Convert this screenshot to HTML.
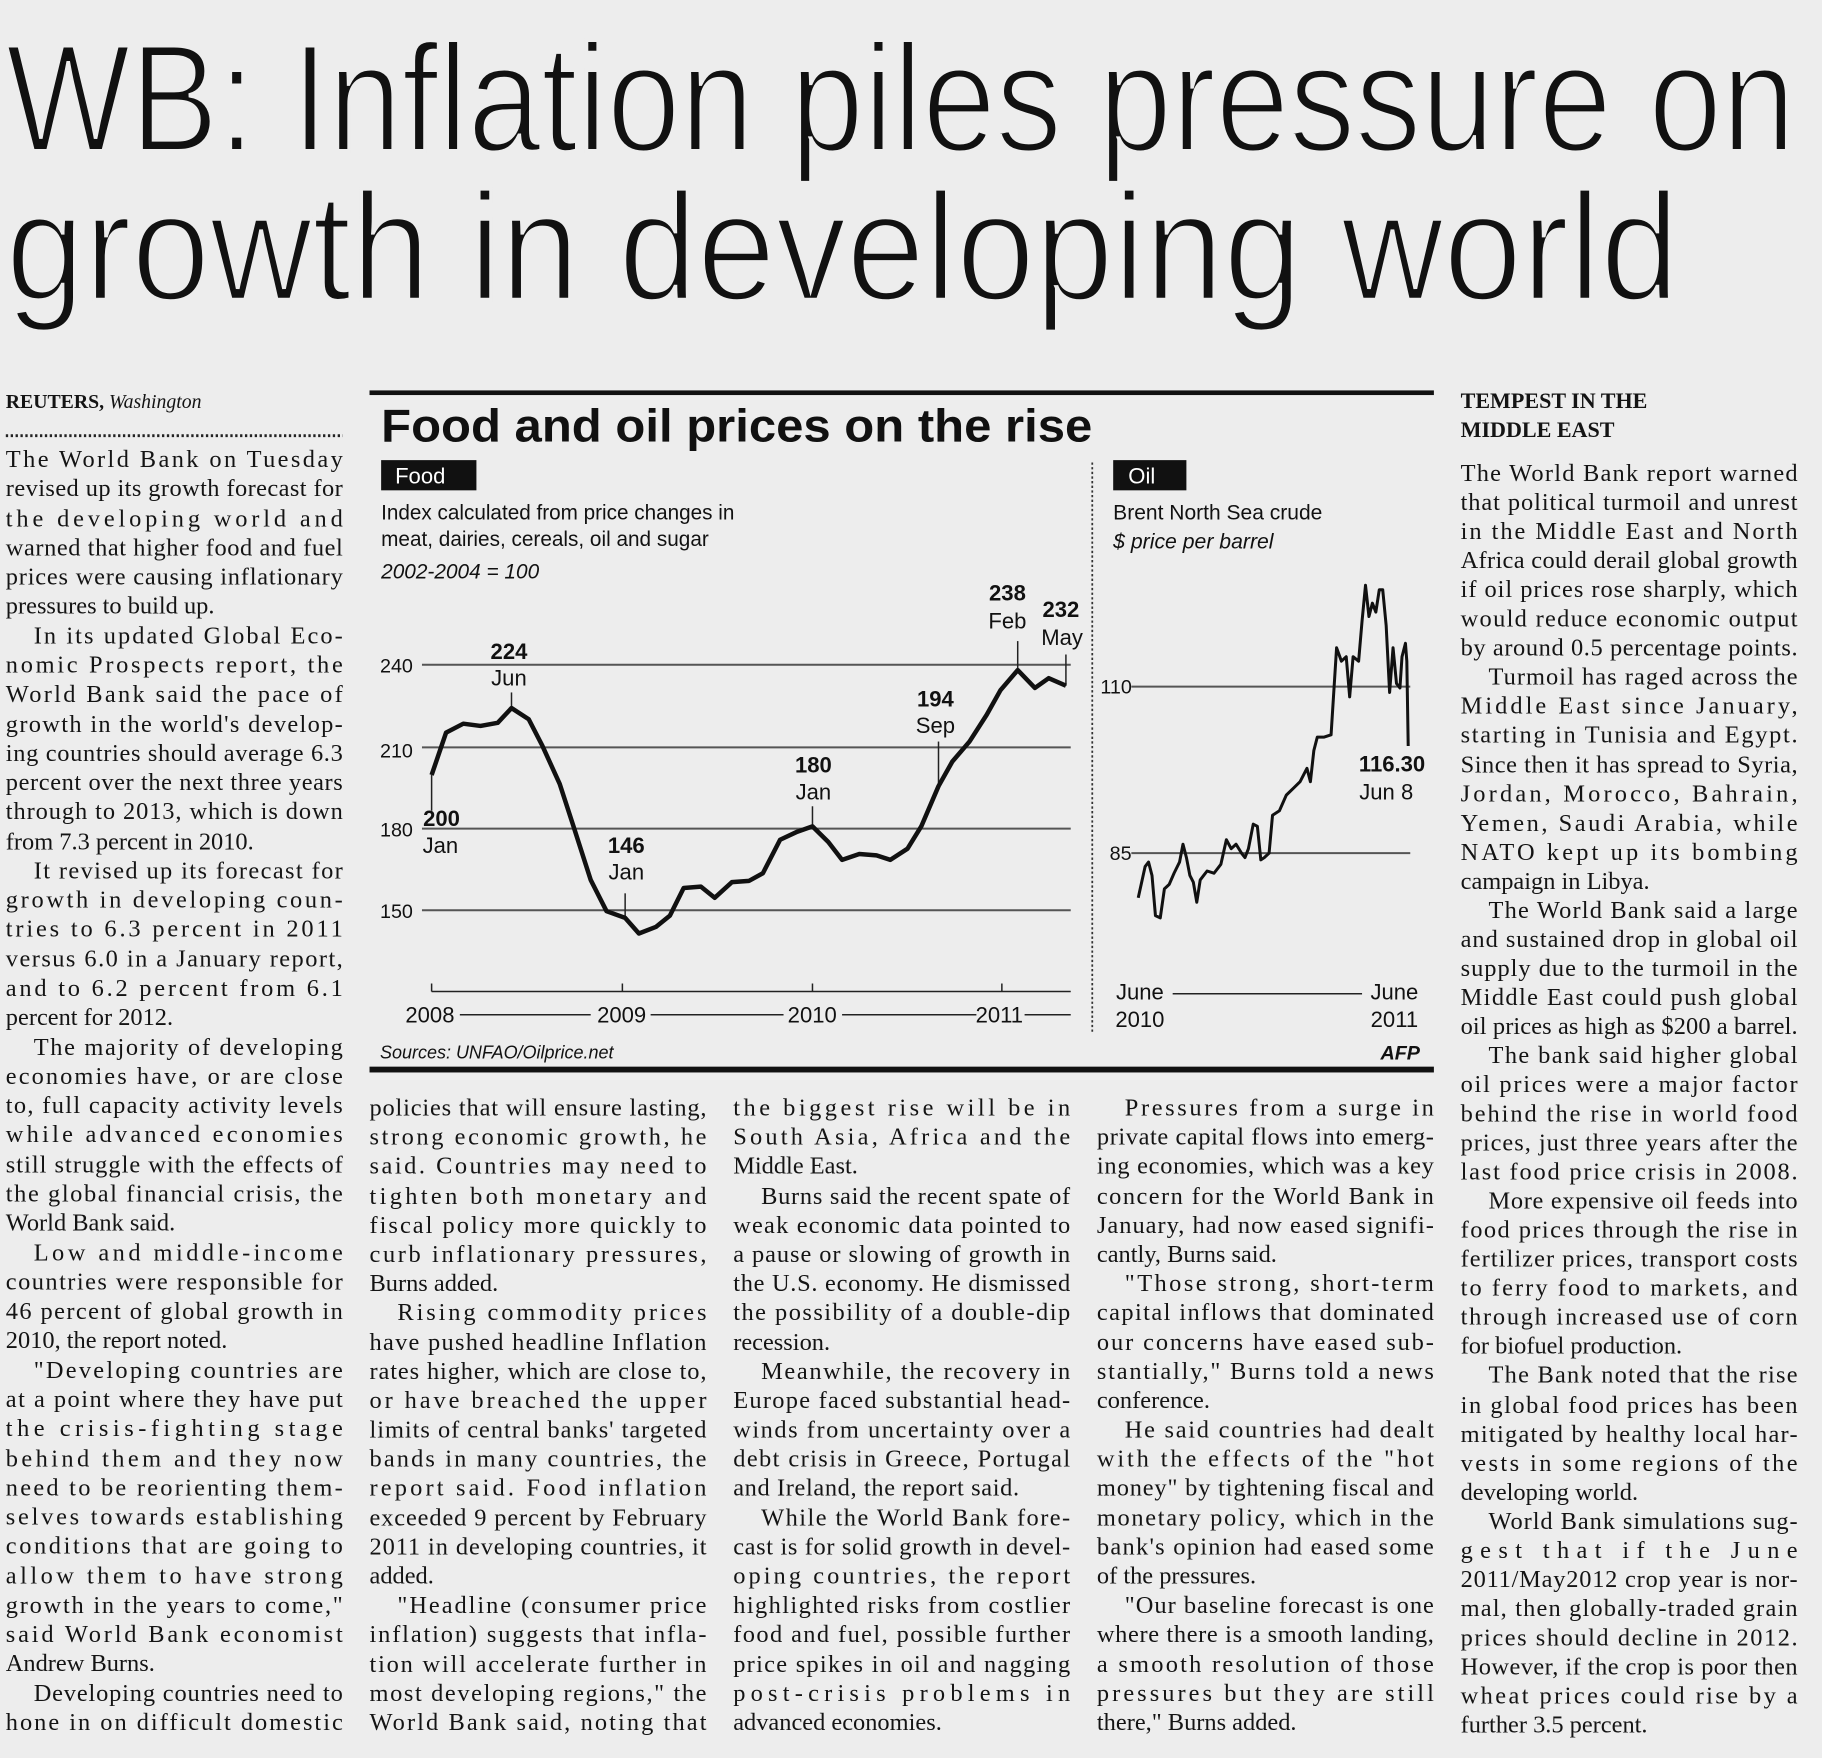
<!DOCTYPE html>
<html><head><meta charset="utf-8"><style>
html,body{margin:0;padding:0;background:#ededed;}
svg{display:block}
.b{font-family:"Liberation Serif",serif;font-size:21px;fill:#141414}
.s{font-family:"Liberation Sans",sans-serif;fill:#111}
</style></head><body>
<svg width="1822" height="1758" viewBox="0 0 1568 1513" preserveAspectRatio="none" xmlns="http://www.w3.org/2000/svg">
<rect width="1568" height="1513" fill="#ededed"/>
<g class="s" style="font-size:132px" fill="#111" stroke="#ededed" stroke-width="3.5">
<text x="5" y="130" textLength="1540" lengthAdjust="spacingAndGlyphs">WB: Inflation piles pressure on</text>
<text x="5" y="258" textLength="1440" lengthAdjust="spacingAndGlyphs">growth in developing world</text>
</g>

<!-- Column 1 -->
<text x="5" y="351" class="b" style="font-size:17px;font-weight:bold">REUTERS, <tspan style="font-style:italic;font-weight:normal">Washington</tspan></text>
<line x1="5" y1="375" x2="295" y2="375" stroke="#222" stroke-width="2.5" stroke-dasharray="2,2.2"/>
<g class="b">
<text x="5" y="402" textLength="290" lengthAdjust="spacing">The World Bank on Tuesday</text>
<text x="5" y="427" textLength="290" lengthAdjust="spacing">revised up its growth forecast for</text>
<text x="5" y="453" textLength="290" lengthAdjust="spacing">the developing world and</text>
<text x="5" y="478" textLength="290" lengthAdjust="spacing">warned that higher food and fuel</text>
<text x="5" y="503" textLength="290" lengthAdjust="spacing">prices were causing inflationary</text>
<text x="5" y="528">pressures to build up.</text>
<text x="29" y="554" textLength="266" lengthAdjust="spacing">In its updated Global Eco-</text>
<text x="5" y="579" textLength="290" lengthAdjust="spacing">nomic Prospects report, the</text>
<text x="5" y="604" textLength="290" lengthAdjust="spacing">World Bank said the pace of</text>
<text x="5" y="630" textLength="290" lengthAdjust="spacing">growth in the world's develop-</text>
<text x="5" y="655" textLength="290" lengthAdjust="spacing">ing countries should average 6.3</text>
<text x="5" y="680" textLength="290" lengthAdjust="spacing">percent over the next three years</text>
<text x="5" y="705" textLength="290" lengthAdjust="spacing">through to 2013, which is down</text>
<text x="5" y="731">from 7.3 percent in 2010.</text>
<text x="29" y="756" textLength="266" lengthAdjust="spacing">It revised up its forecast for</text>
<text x="5" y="781" textLength="290" lengthAdjust="spacing">growth in developing coun-</text>
<text x="5" y="806" textLength="290" lengthAdjust="spacing">tries to 6.3 percent in 2011</text>
<text x="5" y="832" textLength="290" lengthAdjust="spacing">versus 6.0 in a January report,</text>
<text x="5" y="857" textLength="290" lengthAdjust="spacing">and to 6.2 percent from 6.1</text>
<text x="5" y="882">percent for 2012.</text>
<text x="29" y="908" textLength="266" lengthAdjust="spacing">The majority of developing</text>
<text x="5" y="933" textLength="290" lengthAdjust="spacing">economies have, or are close</text>
<text x="5" y="958" textLength="290" lengthAdjust="spacing">to, full capacity activity levels</text>
<text x="5" y="983" textLength="290" lengthAdjust="spacing">while advanced economies</text>
<text x="5" y="1009" textLength="290" lengthAdjust="spacing">still struggle with the effects of</text>
<text x="5" y="1034" textLength="290" lengthAdjust="spacing">the global financial crisis, the</text>
<text x="5" y="1059">World Bank said.</text>
<text x="29" y="1085" textLength="266" lengthAdjust="spacing">Low and middle-income</text>
<text x="5" y="1110" textLength="290" lengthAdjust="spacing">countries were responsible for</text>
<text x="5" y="1135" textLength="290" lengthAdjust="spacing">46 percent of global growth in</text>
<text x="5" y="1160">2010, the report noted.</text>
<text x="29" y="1186" textLength="266" lengthAdjust="spacing">"Developing countries are</text>
<text x="5" y="1211" textLength="290" lengthAdjust="spacing">at a point where they have put</text>
<text x="5" y="1236" textLength="290" lengthAdjust="spacing">the crisis-fighting stage</text>
<text x="5" y="1262" textLength="290" lengthAdjust="spacing">behind them and they now</text>
<text x="5" y="1287" textLength="290" lengthAdjust="spacing">need to be reorienting them-</text>
<text x="5" y="1312" textLength="290" lengthAdjust="spacing">selves towards establishing</text>
<text x="5" y="1337" textLength="290" lengthAdjust="spacing">conditions that are going to</text>
<text x="5" y="1363" textLength="290" lengthAdjust="spacing">allow them to have strong</text>
<text x="5" y="1388" textLength="290" lengthAdjust="spacing">growth in the years to come,"</text>
<text x="5" y="1413" textLength="290" lengthAdjust="spacing">said World Bank economist</text>
<text x="5" y="1438">Andrew Burns.</text>
<text x="29" y="1464" textLength="266" lengthAdjust="spacing">Developing countries need to</text>
<text x="5" y="1489" textLength="290" lengthAdjust="spacing">hone in on difficult domestic</text>
</g>

<!-- Column 2 -->
<g class="b">
<text x="318" y="960" textLength="290" lengthAdjust="spacing">policies that will ensure lasting,</text>
<text x="318" y="985" textLength="290" lengthAdjust="spacing">strong economic growth, he</text>
<text x="318" y="1010" textLength="290" lengthAdjust="spacing">said. Countries may need to</text>
<text x="318" y="1036" textLength="290" lengthAdjust="spacing">tighten both monetary and</text>
<text x="318" y="1061" textLength="290" lengthAdjust="spacing">fiscal policy more quickly to</text>
<text x="318" y="1086" textLength="290" lengthAdjust="spacing">curb inflationary pressures,</text>
<text x="318" y="1111">Burns added.</text>
<text x="342" y="1136" textLength="266" lengthAdjust="spacing">Rising commodity prices</text>
<text x="318" y="1162" textLength="290" lengthAdjust="spacing">have pushed headline Inflation</text>
<text x="318" y="1187" textLength="290" lengthAdjust="spacing">rates higher, which are close to,</text>
<text x="318" y="1212" textLength="290" lengthAdjust="spacing">or have breached the upper</text>
<text x="318" y="1237" textLength="290" lengthAdjust="spacing">limits of central banks' targeted</text>
<text x="318" y="1262" textLength="290" lengthAdjust="spacing">bands in many countries, the</text>
<text x="318" y="1287" textLength="290" lengthAdjust="spacing">report said. Food inflation</text>
<text x="318" y="1313" textLength="290" lengthAdjust="spacing">exceeded 9 percent by February</text>
<text x="318" y="1338" textLength="290" lengthAdjust="spacing">2011 in developing countries, it</text>
<text x="318" y="1363">added.</text>
<text x="342" y="1388" textLength="266" lengthAdjust="spacing">"Headline (consumer price</text>
<text x="318" y="1413" textLength="290" lengthAdjust="spacing">inflation) suggests that infla-</text>
<text x="318" y="1439" textLength="290" lengthAdjust="spacing">tion will accelerate further in</text>
<text x="318" y="1464" textLength="290" lengthAdjust="spacing">most developing regions," the</text>
<text x="318" y="1489" textLength="290" lengthAdjust="spacing">World Bank said, noting that</text>
</g>

<!-- Column 3 -->
<g class="b">
<text x="631" y="960" textLength="290" lengthAdjust="spacing">the biggest rise will be in</text>
<text x="631" y="985" textLength="290" lengthAdjust="spacing">South Asia, Africa and the</text>
<text x="631" y="1010">Middle East.</text>
<text x="655" y="1036" textLength="266" lengthAdjust="spacing">Burns said the recent spate of</text>
<text x="631" y="1061" textLength="290" lengthAdjust="spacing">weak economic data pointed to</text>
<text x="631" y="1086" textLength="290" lengthAdjust="spacing">a pause or slowing of growth in</text>
<text x="631" y="1111" textLength="290" lengthAdjust="spacing">the U.S. economy. He dismissed</text>
<text x="631" y="1136" textLength="290" lengthAdjust="spacing">the possibility of a double-dip</text>
<text x="631" y="1162">recession.</text>
<text x="655" y="1187" textLength="266" lengthAdjust="spacing">Meanwhile, the recovery in</text>
<text x="631" y="1212" textLength="290" lengthAdjust="spacing">Europe faced substantial head-</text>
<text x="631" y="1237" textLength="290" lengthAdjust="spacing">winds from uncertainty over a</text>
<text x="631" y="1262" textLength="290" lengthAdjust="spacing">debt crisis in Greece, Portugal</text>
<text x="631" y="1287" textLength="246" lengthAdjust="spacing">and Ireland, the report said.</text>
<text x="655" y="1313" textLength="266" lengthAdjust="spacing">While the World Bank fore-</text>
<text x="631" y="1338" textLength="290" lengthAdjust="spacing">cast is for solid growth in devel-</text>
<text x="631" y="1363" textLength="290" lengthAdjust="spacing">oping countries, the report</text>
<text x="631" y="1388" textLength="290" lengthAdjust="spacing">highlighted risks from costlier</text>
<text x="631" y="1413" textLength="290" lengthAdjust="spacing">food and fuel, possible further</text>
<text x="631" y="1439" textLength="290" lengthAdjust="spacing">price spikes in oil and nagging</text>
<text x="631" y="1464" textLength="290" lengthAdjust="spacing">post-crisis problems in</text>
<text x="631" y="1489">advanced economies.</text>
</g>

<!-- Column 4 -->
<g class="b">
<text x="968" y="960" textLength="266" lengthAdjust="spacing">Pressures from a surge in</text>
<text x="944" y="985" textLength="290" lengthAdjust="spacing">private capital flows into emerg-</text>
<text x="944" y="1010" textLength="290" lengthAdjust="spacing">ing economies, which was a key</text>
<text x="944" y="1036" textLength="290" lengthAdjust="spacing">concern for the World Bank in</text>
<text x="944" y="1061" textLength="290" lengthAdjust="spacing">January, had now eased signifi-</text>
<text x="944" y="1086">cantly, Burns said.</text>
<text x="968" y="1111" textLength="266" lengthAdjust="spacing">"Those strong, short-term</text>
<text x="944" y="1136" textLength="290" lengthAdjust="spacing">capital inflows that dominated</text>
<text x="944" y="1162" textLength="290" lengthAdjust="spacing">our concerns have eased sub-</text>
<text x="944" y="1187" textLength="290" lengthAdjust="spacing">stantially," Burns told a news</text>
<text x="944" y="1212">conference.</text>
<text x="968" y="1237" textLength="266" lengthAdjust="spacing">He said countries had dealt</text>
<text x="944" y="1262" textLength="290" lengthAdjust="spacing">with the effects of the "hot</text>
<text x="944" y="1287" textLength="290" lengthAdjust="spacing">money" by tightening fiscal and</text>
<text x="944" y="1313" textLength="290" lengthAdjust="spacing">monetary policy, which in the</text>
<text x="944" y="1338" textLength="290" lengthAdjust="spacing">bank's opinion had eased some</text>
<text x="944" y="1363">of the pressures.</text>
<text x="968" y="1388" textLength="266" lengthAdjust="spacing">"Our baseline forecast is one</text>
<text x="944" y="1413" textLength="290" lengthAdjust="spacing">where there is a smooth landing,</text>
<text x="944" y="1439" textLength="290" lengthAdjust="spacing">a smooth resolution of those</text>
<text x="944" y="1464" textLength="290" lengthAdjust="spacing">pressures but they are still</text>
<text x="944" y="1489">there," Burns added.</text>
</g>

<!-- Column 5 -->
<g class="b">
<text x="1257" y="351" style="font-weight:bold;font-size:19px">TEMPEST IN THE</text>
<text x="1257" y="376" style="font-weight:bold;font-size:19px">MIDDLE EAST</text>
<text x="1257" y="414" textLength="290" lengthAdjust="spacing">The World Bank report warned</text>
<text x="1257" y="439" textLength="290" lengthAdjust="spacing">that political turmoil and unrest</text>
<text x="1257" y="464" textLength="290" lengthAdjust="spacing">in the Middle East and North</text>
<text x="1257" y="489" textLength="290" lengthAdjust="spacing">Africa could derail global growth</text>
<text x="1257" y="514" textLength="290" lengthAdjust="spacing">if oil prices rose sharply, which</text>
<text x="1257" y="539" textLength="290" lengthAdjust="spacing">would reduce economic output</text>
<text x="1257" y="564" textLength="290" lengthAdjust="spacing">by around 0.5 percentage points.</text>
<text x="1281" y="589" textLength="266" lengthAdjust="spacing">Turmoil has raged across the</text>
<text x="1257" y="614" textLength="290" lengthAdjust="spacing">Middle East since January,</text>
<text x="1257" y="639" textLength="290" lengthAdjust="spacing">starting in Tunisia and Egypt.</text>
<text x="1257" y="665" textLength="290" lengthAdjust="spacing">Since then it has spread to Syria,</text>
<text x="1257" y="690" textLength="290" lengthAdjust="spacing">Jordan, Morocco, Bahrain,</text>
<text x="1257" y="715" textLength="290" lengthAdjust="spacing">Yemen, Saudi Arabia, while</text>
<text x="1257" y="740" textLength="290" lengthAdjust="spacing">NATO kept up its bombing</text>
<text x="1257" y="765">campaign in Libya.</text>
<text x="1281" y="790" textLength="266" lengthAdjust="spacing">The World Bank said a large</text>
<text x="1257" y="815" textLength="290" lengthAdjust="spacing">and sustained drop in global oil</text>
<text x="1257" y="840" textLength="290" lengthAdjust="spacing">supply due to the turmoil in the</text>
<text x="1257" y="865" textLength="290" lengthAdjust="spacing">Middle East could push global</text>
<text x="1257" y="890" textLength="290" lengthAdjust="spacing">oil prices as high as $200 a barrel.</text>
<text x="1281" y="915" textLength="266" lengthAdjust="spacing">The bank said higher global</text>
<text x="1257" y="940" textLength="290" lengthAdjust="spacing">oil prices were a major factor</text>
<text x="1257" y="965" textLength="290" lengthAdjust="spacing">behind the rise in world food</text>
<text x="1257" y="990" textLength="290" lengthAdjust="spacing">prices, just three years after the</text>
<text x="1257" y="1015" textLength="290" lengthAdjust="spacing">last food price crisis in 2008.</text>
<text x="1281" y="1040" textLength="266" lengthAdjust="spacing">More expensive oil feeds into</text>
<text x="1257" y="1065" textLength="290" lengthAdjust="spacing">food prices through the rise in</text>
<text x="1257" y="1090" textLength="290" lengthAdjust="spacing">fertilizer prices, transport costs</text>
<text x="1257" y="1115" textLength="290" lengthAdjust="spacing">to ferry food to markets, and</text>
<text x="1257" y="1140" textLength="290" lengthAdjust="spacing">through increased use of corn</text>
<text x="1257" y="1165">for biofuel production.</text>
<text x="1281" y="1190" textLength="266" lengthAdjust="spacing">The Bank noted that the rise</text>
<text x="1257" y="1216" textLength="290" lengthAdjust="spacing">in global food prices has been</text>
<text x="1257" y="1241" textLength="290" lengthAdjust="spacing">mitigated by healthy local har-</text>
<text x="1257" y="1266" textLength="290" lengthAdjust="spacing">vests in some regions of the</text>
<text x="1257" y="1291">developing world.</text>
<text x="1281" y="1316" textLength="266" lengthAdjust="spacing">World Bank simulations sug-</text>
<text x="1257" y="1341" textLength="290" lengthAdjust="spacing">gest that if the June</text>
<text x="1257" y="1366" textLength="290" lengthAdjust="spacing">2011/May2012 crop year is nor-</text>
<text x="1257" y="1391" textLength="290" lengthAdjust="spacing">mal, then globally-traded grain</text>
<text x="1257" y="1416" textLength="290" lengthAdjust="spacing">prices should decline in 2012.</text>
<text x="1257" y="1441" textLength="290" lengthAdjust="spacing">However, if the crop is poor then</text>
<text x="1257" y="1466" textLength="290" lengthAdjust="spacing">wheat prices could rise by a</text>
<text x="1257" y="1491">further 3.5 percent.</text>
</g>

<!-- Chart -->
<rect x="318" y="336" width="916" height="4" fill="#111"/>
<rect x="318" y="918" width="916" height="5" fill="#111"/>
<text x="328" y="380" class="s" style="font-size:40px;font-weight:bold" textLength="612" lengthAdjust="spacingAndGlyphs">Food and oil prices on the rise</text>
<rect x="328" y="396" width="82" height="26" fill="#111"/>
<text x="340" y="416" class="s" style="font-size:19px;fill:#fff">Food</text>
<rect x="958" y="396" width="63" height="26" fill="#111"/>
<text x="971" y="416" class="s" style="font-size:19px;fill:#fff">Oil</text>
<line x1="940" y1="398" x2="940" y2="890" stroke="#333" stroke-width="1.5" stroke-dasharray="2,2"/>
<g class="s" style="font-size:18px">
<text x="328" y="447" textLength="304" lengthAdjust="spacingAndGlyphs">Index calculated from price changes in</text>
<text x="328" y="470" textLength="282" lengthAdjust="spacingAndGlyphs">meat, dairies, cereals, oil and sugar</text>
<text x="328" y="498" textLength="136" lengthAdjust="spacingAndGlyphs" font-style="italic">2002-2004 = 100</text>
<text x="958" y="447" textLength="180" lengthAdjust="spacingAndGlyphs">Brent North Sea crude</text>
<text x="958" y="472" textLength="138" lengthAdjust="spacingAndGlyphs" font-style="italic">$ price per barrel</text>
</g>

<g transform="translate(309.8,327) scale(0.5927,0.3842)" fill="none">
<g stroke="#555" stroke-width="2">
<line x1="90" y1="638" x2="1032" y2="638" vector-effect="non-scaling-stroke"/>
<line x1="90" y1="823" x2="1032" y2="823" vector-effect="non-scaling-stroke"/>
<line x1="90" y1="1005" x2="1032" y2="1005" vector-effect="non-scaling-stroke"/>
<line x1="90" y1="1188" x2="1032" y2="1188" vector-effect="non-scaling-stroke"/>
<line x1="1120" y1="687" x2="1525" y2="687" vector-effect="non-scaling-stroke"/>
<line x1="1120" y1="1060" x2="1525" y2="1060" vector-effect="non-scaling-stroke"/>
</g>
<g stroke="#222" stroke-width="1.5">
<line x1="104" y1="1370" x2="1032" y2="1370" vector-effect="non-scaling-stroke"/>
<line x1="104" y1="1352" x2="104" y2="1370" vector-effect="non-scaling-stroke"/>
<line x1="381" y1="1352" x2="381" y2="1370" vector-effect="non-scaling-stroke"/>
<line x1="657" y1="1352" x2="657" y2="1370" vector-effect="non-scaling-stroke"/>
<line x1="932" y1="1352" x2="932" y2="1370" vector-effect="non-scaling-stroke"/>
<line x1="1180" y1="1375" x2="1455" y2="1375" vector-effect="non-scaling-stroke"/>
<line x1="145" y1="1422" x2="335" y2="1422" vector-effect="non-scaling-stroke"/>
<line x1="422" y1="1422" x2="615" y2="1422" vector-effect="non-scaling-stroke"/>
<line x1="700" y1="1422" x2="895" y2="1422" vector-effect="non-scaling-stroke"/>
<line x1="965" y1="1422" x2="1032" y2="1422" vector-effect="non-scaling-stroke"/>
<line x1="104" y1="885" x2="104" y2="965" vector-effect="non-scaling-stroke"/>
<line x1="220" y1="700" x2="220" y2="735" vector-effect="non-scaling-stroke"/>
<line x1="385" y1="1150" x2="385" y2="1205" vector-effect="non-scaling-stroke"/>
<line x1="657" y1="955" x2="657" y2="1000" vector-effect="non-scaling-stroke"/>
<line x1="840" y1="810" x2="840" y2="910" vector-effect="non-scaling-stroke"/>
<line x1="955" y1="585" x2="955" y2="650" vector-effect="non-scaling-stroke"/>
<line x1="1025" y1="615" x2="1025" y2="685" vector-effect="non-scaling-stroke"/>
</g>
<polyline stroke="#111" stroke-width="4.5" stroke-linejoin="round" vector-effect="non-scaling-stroke" points="104,885 125,790 150,770 175,775 200,768 220,735 245,760 265,820 290,905 310,1000 335,1120 358,1190 385,1205 405,1240 430,1225 450,1200 470,1138 495,1135 515,1160 540,1125 565,1122 585,1105 610,1030 635,1012 657,1000 680,1035 700,1075 725,1062 750,1065 770,1075 795,1050 815,1000 840,910 860,855 885,810 910,750 930,695 955,650 980,690 1000,668 1025,685"/>
<polyline stroke="#111" stroke-width="3" stroke-linejoin="round" vector-effect="non-scaling-stroke" points="1130,1160 1140,1090 1145,1080 1150,1110 1155,1200 1162,1205 1168,1140 1175,1130 1182,1105 1190,1080 1195,1040 1200,1070 1205,1110 1210,1125 1215,1170 1220,1120 1225,1110 1230,1100 1240,1105 1250,1085 1258,1030 1265,1050 1272,1040 1280,1060 1285,1070 1290,1050 1297,995 1303,1000 1308,1075 1313,1070 1320,1060 1325,975 1335,965 1345,930 1355,915 1365,900 1375,870 1380,900 1385,830 1390,800 1400,800 1410,795 1418,600 1425,630 1432,620 1437,710 1442,620 1450,630 1455,540 1460,460 1465,530 1470,500 1475,520 1480,470 1485,470 1490,550 1495,700 1500,600 1505,680 1510,690 1513,620 1518,590 1520,630 1522,820"/>
</g>

<g class="s" style="font-size:17px">
<text x="327" y="579">240</text>
<text x="327" y="652">210</text>
<text x="327" y="720">180</text>
<text x="327" y="790">150</text>
<text x="947" y="597">110</text>
<text x="955" y="740">85</text>
</g>
<g class="s" style="font-size:19px" text-anchor="middle">
<text x="438" y="567" font-weight="bold">224</text><text x="438" y="590">Jun</text>
<text x="380" y="711" font-weight="bold">200</text><text x="379" y="734">Jan</text>
<text x="539" y="734" font-weight="bold">146</text><text x="539" y="757">Jan</text>
<text x="700" y="665" font-weight="bold">180</text><text x="700" y="688">Jan</text>
<text x="805" y="608" font-weight="bold">194</text><text x="805" y="631">Sep</text>
<text x="867" y="517" font-weight="bold">238</text><text x="867" y="541">Feb</text>
<text x="913" y="531" font-weight="bold">232</text><text x="914" y="555">May</text>
<text x="1198" y="664" font-weight="bold">116.30</text><text x="1193" y="688">Jun 8</text>
<text x="370" y="880">2008</text>
<text x="535" y="880">2009</text>
<text x="699" y="880">2010</text>
<text x="860" y="880">2011</text>
<text x="981" y="860">June</text><text x="981" y="884">2010</text>
<text x="1200" y="860">June</text><text x="1200" y="884">2011</text>
</g>
<text x="327" y="911" class="s" style="font-size:16px;font-style:italic" textLength="201" lengthAdjust="spacingAndGlyphs">Sources: UNFAO/Oilprice.net</text>
<text x="1188" y="912" class="s" style="font-size:17px;font-style:italic;font-weight:bold">AFP</text>
</svg>
</body></html>
